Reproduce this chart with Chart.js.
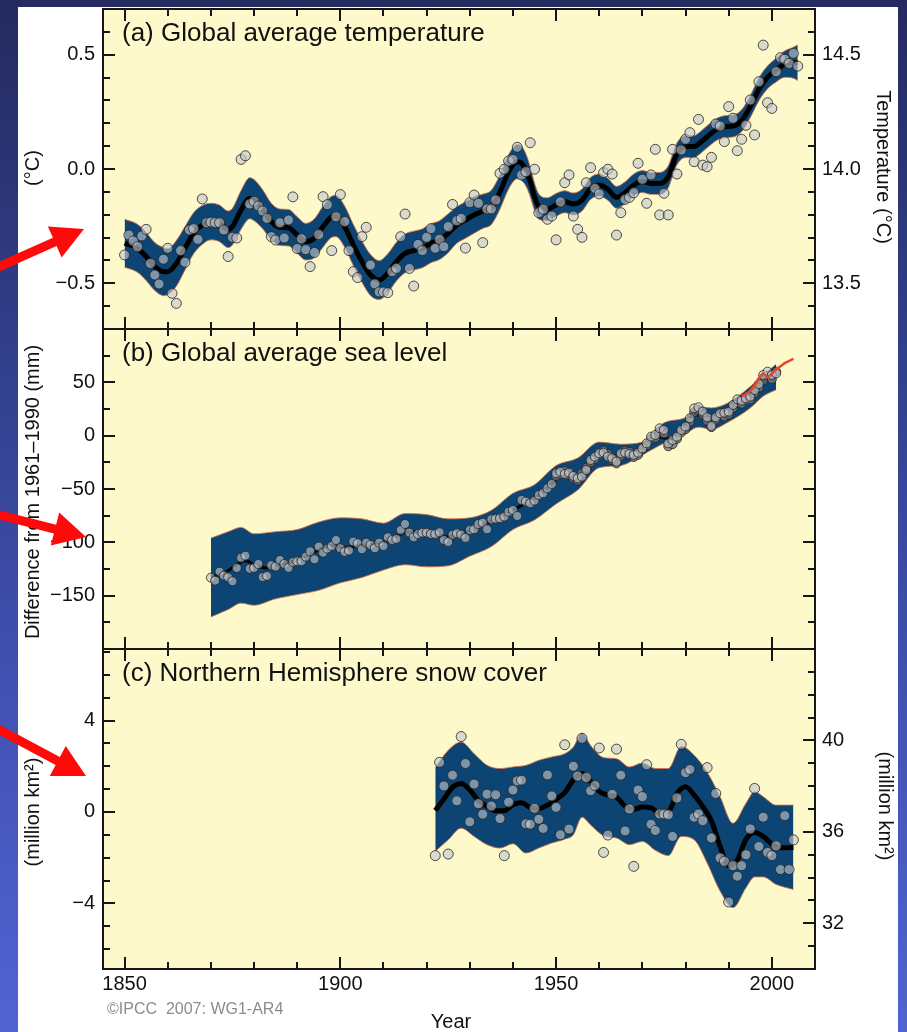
<!DOCTYPE html>
<html>
<head>
<meta charset="utf-8">
<script src="https://cdn.jsdelivr.net/npm/chart.js@4.4.1/dist/chart.umd.min.js"></script>
<style>
  html, body { margin: 0; padding: 0; }
  body {
    width: 907px; height: 1032px; position: relative; overflow: hidden;
    background: linear-gradient(180deg, #252b5f 0%, #323f8c 35%, #4353b6 70%, #5063d2 100%);
  }
  #sheet { position: absolute; left: 18px; top: 7px; width: 880px; height: 1025px; background: #ffffff; }
  canvas { position: absolute; left: 0; }
  #arrows { z-index: 5; pointer-events: none; }
</style>
</head>
<body>
<div id="sheet"></div>
<canvas id="chartA" width="907" height="340" style="top:0px"></canvas>
<canvas id="chartB" width="907" height="340" style="top:319px"></canvas>
<canvas id="chartC" width="907" height="393" style="top:639px"></canvas>
<canvas id="arrows" width="907" height="1032" style="top:0px"></canvas>
<script>
// ---------- (a) Global average temperature: anomaly (°C) vs 1961–1990 ----------
const tempStartYear = 1850;
const tempAnnual = [
  -0.376,-0.289,-0.315,-0.340,-0.293,-0.264,-0.413,-0.464,-0.503,-0.395,
  -0.347,-0.544,-0.588,-0.357,-0.408,-0.267,-0.261,-0.308,-0.131,-0.235,
  -0.232,-0.235,-0.235,-0.267,-0.383,-0.299,-0.302, 0.042, 0.058,-0.153,
  -0.141,-0.162,-0.184,-0.216,-0.296,-0.311,-0.235,-0.302,-0.223,-0.122,
  -0.348,-0.305,-0.353,-0.427,-0.365,-0.287,-0.121,-0.156,-0.357,-0.209,
  -0.112,-0.230,-0.357,-0.449,-0.475,-0.296,-0.255,-0.420,-0.503,-0.538,
  -0.538,-0.541,-0.449,-0.435,-0.296,-0.197,-0.435,-0.512,-0.330,-0.357,
  -0.299,-0.261,-0.347,-0.308,-0.340,-0.252,-0.155,-0.226,-0.216,-0.346,
  -0.147,-0.114,-0.150,-0.322,-0.175,-0.175,-0.136,-0.019,-0.001, 0.035,
   0.042, 0.095,-0.026,-0.012, 0.115,-0.001,-0.191,-0.176,-0.220,-0.206,
  -0.310,-0.144,-0.060,-0.026,-0.206,-0.264,-0.299,-0.060, 0.006,-0.085,
  -0.109,-0.016,-0.001,-0.022,-0.289,-0.191,-0.133,-0.124,-0.104, 0.025,
  -0.045,-0.150,-0.026, 0.086,-0.201,-0.106,-0.201, 0.086,-0.022, 0.083,
   0.130, 0.159, 0.032, 0.217, 0.017, 0.010, 0.051, 0.197, 0.188, 0.120,
   0.273, 0.222, 0.080, 0.130, 0.191, 0.302, 0.149, 0.382, 0.542, 0.290,
   0.265, 0.426, 0.487, 0.480, 0.462, 0.506, 0.450
];
const tempSmoothYears = [
  1850,1853,1855,1857,1859,1860,1862,1864,1866,1868,
  1870,1872,1874,1875,1877,1879,1880,1882,1884,1886,
  1888,1890,1892,1894,1896,1898,1899,1901,1903,1905,
  1907,1909,1911,1913,1915,1917,1919,1921,1923,1925,
  1927,1929,1931,1933,1935,1937,1939,1941,1942,1943,
  1944,1945,1946,1948,1950,1952,1954,1956,1958,1960,
  1962,1964,1966,1968,1970,1972,1974,1976,1977,1978,
  1980,1982,1983,1985,1987,1989,1991,1993,1995,1997,
  1999,2001,2003,2005,2006
];
const tempSmooth = [
  -0.325,-0.347,-0.383,-0.427,-0.449,-0.449,-0.413,-0.347,-0.281,-0.245,
  -0.230,-0.238,-0.264,-0.252,-0.179,-0.128,-0.136,-0.176,-0.230,-0.255,
  -0.257,-0.289,-0.318,-0.303,-0.252,-0.209,-0.206,-0.252,-0.332,-0.405,
  -0.464,-0.486,-0.456,-0.405,-0.369,-0.357,-0.347,-0.325,-0.311,-0.281,
  -0.245,-0.223,-0.201,-0.185,-0.168,-0.100,-0.012, 0.032, 0.025,-0.004,
  -0.055,-0.121,-0.165,-0.176,-0.157,-0.143,-0.153,-0.136,-0.085,-0.070,
  -0.089,-0.124,-0.104,-0.070,-0.055,-0.063,-0.063,-0.034, 0.017, 0.066,
   0.098, 0.098, 0.109, 0.141, 0.171, 0.185, 0.188, 0.211, 0.273, 0.349,
   0.401, 0.433, 0.459, 0.465, 0.465
];
// half-width of the uncertainty band at each smoothed year
const tempHalfWidth = [
  0.105,0.105,0.105,0.105,0.105,0.100,0.100,0.095,0.090,0.085,
  0.080,0.080,0.080,0.080,0.085,0.090,0.090,0.085,0.080,0.080,
  0.080,0.080,0.080,0.085,0.090,0.090,0.090,0.090,0.090,0.090,
  0.090,0.085,0.085,0.085,0.085,0.085,0.085,0.085,0.085,0.085,
  0.080,0.080,0.080,0.075,0.075,0.075,0.075,0.075,0.075,0.070,
  0.065,0.060,0.055,0.050,0.050,0.048,0.048,0.048,0.048,0.048,
  0.048,0.048,0.048,0.048,0.048,0.048,0.048,0.048,0.048,0.048,
  0.048,0.048,0.048,0.048,0.048,0.048,0.048,0.048,0.048,0.050,
  0.050,0.052,0.058,0.068,0.078
];
const tempLeftTicks = [-0.5, 0, 0.5];
const tempRightTicks = [13.5, 14.0, 14.5];

// ---------- (b) Global average sea level (mm) vs 1961–1990 ----------
const seaReconStartYear = 1870;
const seaRecon = [
  -133.1,-135.9,-127.5,-131.2,-132.8,-136.5,-124.0,-114.4,-112.5,-124.7,
  -124.0,-120.3,-132.5,-131.5,-121.5,-122.8,-116.5,-120.3,-124.0,-118.4,
  -117.8,-117.8,-113.4,-108.4,-115.9,-104.0,-109.7,-105.9,-103.4, -97.8,
  -105.6,-109.0,-107.8, -99.3,-100.9,-106.5,-100.3,-102.5,-105.6,-100.3,
  -103.4, -95.3, -97.8, -96.8, -88.4, -82.8, -90.9, -95.3, -92.2, -90.9,
   -90.9, -92.2, -92.2, -90.6, -97.8, -99.7, -92.8, -91.5, -92.8, -95.9,
   -88.4, -87.8, -82.8, -81.6, -87.8, -78.4, -77.8, -77.5, -75.9, -71.3,
   -69.7, -75.3, -60.3, -61.8, -63.4, -60.9, -55.6, -54.0, -49.3, -45.3,
   -35.3, -33.8, -35.9, -34.7, -37.8, -40.0, -38.4, -32.2, -22.8, -19.7,
   -16.6, -15.9, -19.7, -21.2, -24.3, -16.6, -15.9, -17.2, -18.1, -15.9,
   -11.8,  -7.2,  -0.9,   0.7,   6.9,   5.3,  -7.2,  -4.1,  -0.9,   5.3,
     8.5,  16.3,  25.6,  26.6,  22.5,  17.2,   9.1,  17.2,  21.0,  21.6,
    22.5,  28.8,  34.1,  32.8,  35.0,  36.6,  42.8,  48.4,  56.9,  60.0,
    56.9,  58.4
];
const seaTideStartYear = 1950;
const seaTide = [
  -38,-36,-33,-37,-40,-42,-35,-30,-25,-22,
  -18,-14,-17,-23,-26,-19,-14,-15,-20,-18,
  -13, -9, -3, -2,  4,  2,-10, -8, -3,  3,
    6, 13, 22, 24, 20, 14,  8, 15, 19, 18,
   20, 26, 31, 30, 33, 34, 40, 45, 52, 56,
   53, 60
];
const seaSatStartYear = 1993;
const seaSat = [37, 39, 42, 47, 54, 58, 55, 58, 62, 65, 68, 70, 72];
const seaSmoothYears = [
  1870,1873,1876,1878,1880,1883,1886,1889,1892,1895,
  1898,1901,1904,1907,1910,1913,1916,1919,1922,1925,
  1928,1931,1934,1937,1940,1943,1946,1949,1952,1955,
  1958,1961,1964,1967,1970,1973,1976,1979,1982,1985,
  1988,1991,1994,1997,2000,2001
];
const seaSmooth = [
  -132,-129,-121,-117,-121,-124,-120,-118,-113,-107,
  -103,-105,-103,-102,-100, -94, -90, -91, -92, -95,
   -92, -87, -82, -76, -70, -63, -56, -45, -36, -37,
   -25, -17, -19, -17, -11,   0,  -3,   4,  20,  17,
    18,  27,  35,  47,  57,  58
];
const seaBandYears = [
  1870,1874,1877,1880,1885,1890,1895,1900,1905,1910,
  1915,1920,1925,1930,1935,1940,1945,1950,1955,1960,
  1965,1970,1975,1980,1983,1986,1990,1995,1998,2001
];
const seaBandUpper = [
   -96, -90, -86, -92, -90, -88, -81, -77, -78, -82,
   -73, -74, -78, -77, -70, -54, -46, -28, -21,  -6,
    -8,  -6,  12,  17,  27,  26,  31,  46,  57,  67
];
const seaBandLower = [
  -170,-163,-157,-159,-153,-149,-145,-138,-133,-126,
  -121,-123,-122,-113,-104, -88, -79, -64, -51, -30,
   -28, -18,  -7,   2,   8,   6,  13,  26,  37,  43
];
const seaTicks = [-150, -100, -50, 0, 50];

// ---------- (c) Northern Hemisphere snow cover (million km²) ----------
const snowStartYear = 1922;
const snowAnnual = [
  -1.91, 2.17, 1.14,-1.84, 1.61, 0.49, 3.30, 2.12,-0.43, 1.22,
   0.36,-0.10, 0.78, 0.26, 0.75,-0.29,-1.91, 0.43, 0.96, 1.36,
   1.39,-0.52,-0.54, 0.16,-0.32,-0.72, 1.62, 0.70, 0.20,-1.00,
   2.94,-0.75, 2.00, 1.57, 3.22, 1.51, 0.93, 1.16, 2.80,-1.77,
  -1.01, 0.77, 2.75, 1.61,-0.83, 0.13,-2.38, 0.96, 0.67, 2.07,
  -0.54,-0.81,-0.09,-0.09,-0.12,-1.07, 0.61, 2.96, 1.72, 1.86,
  -0.23,-0.09,-0.38, 1.94,-1.14, 0.81,-2.01,-2.16,-3.94,-2.35,
  -2.81,-2.35,-1.87,-0.74, 1.03,-1.51,-0.23,-1.77,-1.91,-1.48,
  -2.52,-0.16,-2.52,-1.22
];
const snowSmoothYears = [
  1922,1924,1926,1928,1930,1932,1934,1936,1938,1940,
  1942,1944,1946,1948,1950,1952,1954,1956,1958,1960,
  1962,1964,1966,1968,1970,1972,1974,1976,1978,1980,
  1982,1984,1986,1988,1990,1992,1994,1996,1998,2000,
  2002,2004,2005
];
const snowSmooth = [
   0.06, 0.57, 1.08, 1.25, 0.96, 0.50, 0.25, 0.05, 0.05, 0.32,
   0.40, 0.20, 0.15, 0.30, 0.55, 0.85, 1.40, 1.68, 1.33, 0.90,
   0.74, 0.65, 0.25, 0.12, 0.22, 0.18,-0.03, 0.01, 0.80, 1.10,
   0.74, 0.23,-0.38,-1.50,-2.35,-2.10,-1.20,-0.90,-1.07,-1.40,
  -1.57,-1.56,-1.55
];
const snowBandYears = [
  1922,1925,1928,1931,1934,1937,1940,1943,1946,1949,
  1952,1954,1956,1958,1961,1964,1967,1970,1973,1976,
  1979,1982,1985,1988,1991,1994,1996,1998,2001,2005
];
const snowBandUpper = [
   1.94, 2.70, 3.06, 2.55, 2.04, 1.90, 1.97, 2.04, 2.26, 2.41,
   2.55, 2.84, 3.45, 2.91, 2.38, 2.33, 1.97, 2.14, 1.90, 1.90,
   2.87, 2.48, 1.75, 0.67,-0.49, 0.38, 0.88, 0.67, 0.30, 0.30
];
const snowBandLower = [
  -1.72,-1.22,-0.71,-1.07,-1.43,-1.58,-1.39,-1.80,-1.58,-1.36,
  -1.19,-1.00,-0.23,-0.57,-1.04,-1.14,-1.43,-1.29,-1.68,-1.91,
  -1.07,-1.22,-2.23,-3.46,-4.19,-3.32,-2.84,-2.84,-3.17,-3.39
];
const snowLeftTicks = [-4, 0, 4];
const snowRightTicks = [32, 36, 40];

const yearTicks = [1850, 1900, 1950, 2000];

// ---------- shared look ----------
const FONT = '"Liberation Sans", Arial, Helvetica, sans-serif';
const PLOT_LEFT = 103, PLOT_RIGHT = 815, PAGE_W = 907;
const YELLOW = '#fdf9cb';
const BAND = '#0c4573';
const BAND_EDGE = 'rgba(214,112,72,0.85)';
const DOT = 'rgba(196,199,203,0.62)';
const DOT_DARK = 'rgba(118,118,118,0.80)';
const DOT_EDGE = 'rgba(35,35,35,0.8)';

Chart.defaults.font.family = FONT;

const series = (start, vals) => vals.map((v, i) => ({ x: start + i, y: v }));
const pairs = (xs, ys) => xs.map((x, i) => ({ x, y: ys[i] }));
const minus = s => String(s).replace('-', '\u2212');

function dots(data, fill, r) {
  return { data, showLine: false, pointRadius: r, pointBackgroundColor: fill,
           pointBorderColor: DOT_EDGE, pointBorderWidth: 1, order: 0 };
}
function curve(data, color, width, order) {
  return { data, borderColor: color, borderWidth: width, pointRadius: 0,
           cubicInterpolationMode: 'monotone', fill: false, order };
}
function bandEdge(data, fill, order) {
  return { data, borderColor: BAND_EDGE, borderWidth: 1, pointRadius: 0,
           cubicInterpolationMode: 'monotone', fill, backgroundColor: BAND, order };
}

function yAxis(position, min, max, values, fmt, showLabels) {
  return {
    type: 'linear', position, min, max,
    afterBuildTicks: s => { s.ticks = values.map(v => ({ value: v })); },
    afterFit: s => {
      s.width = position === 'left' ? PLOT_LEFT : PAGE_W - PLOT_RIGHT;
      s.paddingTop = 0; s.paddingBottom = 0;
    },
    ticks: { display: showLabels, callback: v => fmt(v), font: { size: 20 }, color: '#111',
             padding: position === 'left' ? 8 : 7, autoSkip: false, maxRotation: 0 },
    grid: { display: false, drawTicks: false },
    border: { display: false }
  };
}
function xAxis(show) {
  return {
    type: 'linear', min: 1845, max: 2010, display: show,
    afterBuildTicks: s => { s.ticks = yearTicks.map(v => ({ value: v })); },
    afterFit: s => {
      s.height = show ? 63 : 0;
      s.paddingLeft = 0; s.paddingRight = 0;
    },
    ticks: { callback: v => String(v), font: { size: 20 }, color: '#111', padding: 3,
             autoSkip: false, maxRotation: 0 },
    grid: { display: false, drawTicks: false },
    border: { display: false }
  };
}

// panel background, frame, inward tick marks and panel texts
const panelPlugin = {
  id: 'panel',
  beforeDraw(chart) {
    const { ctx, chartArea: c } = chart;
    ctx.save();
    ctx.fillStyle = YELLOW;
    ctx.fillRect(c.left, c.top, c.right - c.left, c.bottom - c.top);
    ctx.restore();
  },
  afterDraw(chart, _args, o) {
    const { ctx, chartArea: c } = chart;
    ctx.save();
    ctx.strokeStyle = '#161616';
    ctx.lineWidth = 2;
    ctx.beginPath();
    for (const m of o.marks) {
      const s = chart.scales[m.scale];
      const k0 = Math.ceil(s.min / m.step - 1e-6), k1 = Math.floor(s.max / m.step + 1e-6);
      for (let k = k0; k <= k1; k++) {
        const v = k * m.step;
        const r = v / m.major;
        const len = Math.abs(r - Math.round(r)) < 1e-6 ? 12 : 7;
        const p = Math.round(s.getPixelForValue(v));
        if (m.scale === 'x') {
          ctx.moveTo(p, c.top); ctx.lineTo(p, c.top + len);
          ctx.moveTo(p, c.bottom); ctx.lineTo(p, c.bottom - len);
        } else if (s.position === 'left') {
          ctx.moveTo(c.left, p); ctx.lineTo(c.left + len, p);
        } else {
          ctx.moveTo(c.right, p); ctx.lineTo(c.right - len, p);
        }
      }
    }
    ctx.stroke();
    ctx.strokeRect(c.left, c.top, c.right - c.left, c.bottom - c.top);

    for (const t of o.texts) {
      ctx.save();
      ctx.font = t.size + 'px ' + FONT;
      ctx.fillStyle = t.color || '#111';
      ctx.translate(t.x, t.y);
      if (t.rot) ctx.rotate(t.rot * Math.PI / 180);
      if (t.stretch) ctx.scale(t.stretch, 1);
      ctx.textAlign = t.align || 'left';
      ctx.textBaseline = t.base || 'alphabetic';
      ctx.fillText(t.text, 0, 0);
      ctx.restore();
    }
    ctx.restore();
  }
};

function makeChart(id, datasets, scales, padding, panel) {
  return new Chart(document.getElementById(id), {
    type: 'line',
    data: { datasets },
    options: {
      responsive: false, animation: false, devicePixelRatio: 1,
      layout: { padding },
      scales,
      elements: { point: { hitRadius: 0, hoverRadius: 0 } },
      plugins: {
        legend: { display: false }, tooltip: { enabled: false },
        filler: { drawTime: 'beforeDatasetsDraw' },
        panel
      }
    },
    plugins: [panelPlugin]
  });
}

// ---------- (a) ----------
const tempUpper = tempSmooth.map((v, i) => v + tempHalfWidth[i]);
const tempLower = tempSmooth.map((v, i) => v - tempHalfWidth[i]);
makeChart('chartA', [
    dots(series(tempStartYear, tempAnnual), DOT, 5),
    curve(pairs(tempSmoothYears, tempSmooth), '#000', 5, 1),
    bandEdge(pairs(tempSmoothYears, tempUpper), '+1', 2),
    bandEdge(pairs(tempSmoothYears, tempLower), false, 3)
  ], {
    x: xAxis(false),
    y: yAxis('left', -0.7, 0.7, tempLeftTicks, v => minus(v.toFixed(1)), true),
    y2: yAxis('right', 13.3, 14.7, tempRightTicks, v => v.toFixed(1), true)
  },
  { left: 0, right: 0, top: 9, bottom: 11 },
  {
    marks: [{ scale: 'x', step: 10, major: 50 }, { scale: 'y', step: 0.1, major: 0.5 },
            { scale: 'y2', step: 0.1, major: 0.5 }],
    texts: [
      { text: '(a) Global average temperature', x: 122, y: 41, size: 25, stretch: 1.04 },
      { text: '(°C)', x: 33, y: 168, size: 20, rot: -90, align: 'center', base: 'middle' },
      { text: 'Temperature (°C)', x: 883, y: 167, size: 20, rot: 90, align: 'center', base: 'middle' }
    ]
  });

// ---------- (b) ----------
makeChart('chartB', [
    { ...curve(series(seaSatStartYear, seaSat), '#e8452e', 2.5, -1) },
    dots(series(seaReconStartYear, seaRecon), DOT, 4.5),
    dots(series(seaTideStartYear, seaTide), DOT_DARK, 4.5),
    curve(pairs(seaSmoothYears, seaSmooth), '#000', 3, 1),
    bandEdge(pairs(seaBandYears, seaBandUpper), '+1', 2),
    bandEdge(pairs(seaBandYears, seaBandLower), false, 3)
  ], {
    x: xAxis(false),
    y: yAxis('left', -200, 100, seaTicks, v => minus(v), true),
    y2: yAxis('right', -200, 100, seaTicks, v => minus(v), false)
  },
  { left: 0, right: 0, top: 10, bottom: 10 },
  {
    marks: [{ scale: 'x', step: 10, major: 50 }, { scale: 'y', step: 25, major: 50 },
            { scale: 'y2', step: 25, major: 50 }],
    texts: [
      { text: '(b) Global average sea level', x: 122, y: 42, size: 25, stretch: 1.04 },
      { text: 'Difference from 1961\u20131990 (mm)', x: 33, y: 173, size: 20, rot: -90, align: 'center', base: 'middle' }
    ]
  });

// ---------- (c) ----------
makeChart('chartC', [
    dots(series(snowStartYear, snowAnnual), DOT, 5),
    curve(pairs(snowSmoothYears, snowSmooth), '#000', 5, 1),
    bandEdge(pairs(snowBandYears, snowBandUpper), '+1', 2),
    bandEdge(pairs(snowBandYears, snowBandLower), false, 3)
  ], {
    x: xAxis(true),
    y: yAxis('left', -6.87, 7.13, snowLeftTicks, v => minus(v), true),
    y2: yAxis('right', 30, 44, snowRightTicks, v => String(v), true)
  },
  { left: 0, right: 0, top: 10, bottom: 0 },
  {
    marks: [{ scale: 'x', step: 10, major: 50 }, { scale: 'y', step: 1, major: 4 },
            { scale: 'y2', step: 1, major: 4 }],
    texts: [
      { text: '(c) Northern Hemisphere snow cover', x: 122, y: 42, size: 25, stretch: 1.04 },
      { text: '(million km\u00B2)', x: 33, y: 173, size: 20, rot: -90, align: 'center', base: 'middle' },
      { text: '(million km\u00B2)', x: 885, y: 167, size: 20, rot: 90, align: 'center', base: 'middle' },
      { text: 'Year', x: 451, y: 389, size: 20, align: 'center' },
      { text: '\u00A9IPCC  2007: WG1-AR4', x: 107, y: 375, size: 16, color: '#8c8c8c' }
    ]
  });

// ---------- red pointer arrows along the left margin ----------
(function drawArrows() {
  const ctx = document.getElementById('arrows').getContext('2d');
  const arrows = [
    [-4, 268, 84, 229],
    [-4, 514, 86, 537],
    [-4, 728, 86, 776]
  ];
  ctx.fillStyle = '#ff0a0a';
  for (const [x0, y0, x1, y1] of arrows) {
    const dx = x1 - x0, dy = y1 - y0, L = Math.hypot(dx, dy);
    const ux = dx / L, uy = dy / L, nx = -uy, ny = ux;
    const shaft = 4.5, head = 32, half = 17;
    const bx = x1 - ux * head, by = y1 - uy * head;
    ctx.beginPath();
    ctx.moveTo(x0 + nx * shaft, y0 + ny * shaft);
    ctx.lineTo(bx + nx * shaft, by + ny * shaft);
    ctx.lineTo(bx + nx * half, by + ny * half);
    ctx.lineTo(x1, y1);
    ctx.lineTo(bx - nx * half, by - ny * half);
    ctx.lineTo(bx - nx * shaft, by - ny * shaft);
    ctx.lineTo(x0 - nx * shaft, y0 - ny * shaft);
    ctx.closePath();
    ctx.fill();
  }
})();
</script>
</body>
</html>
